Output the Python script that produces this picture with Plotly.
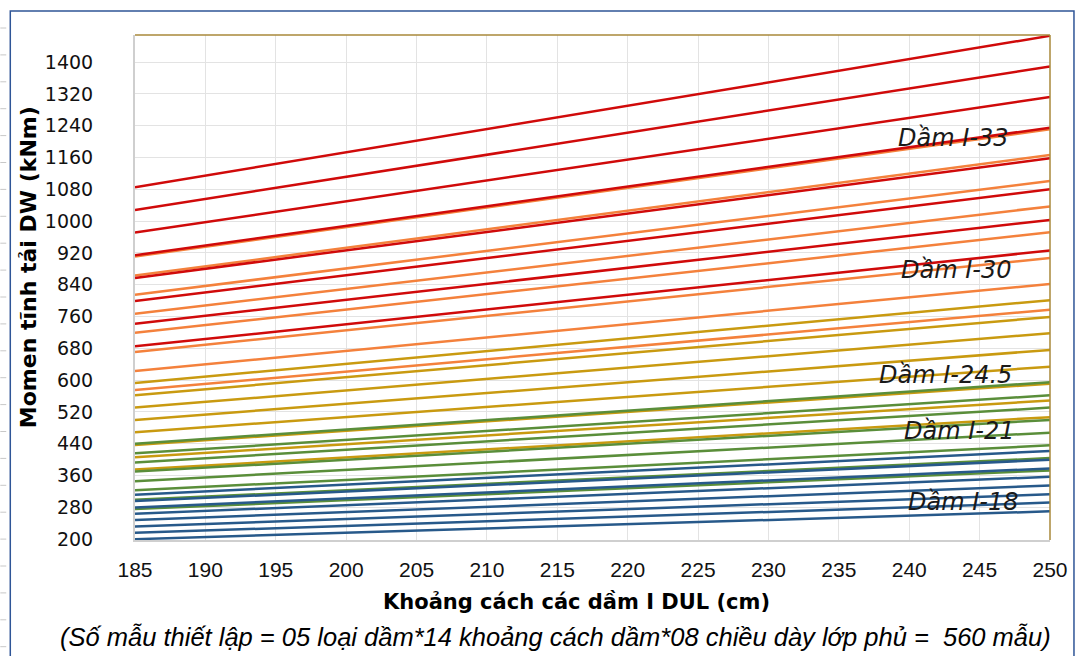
import plotly.graph_objects as go

# Girder spacing (cm) at the two ends of each straight line
spacing = [185, 250]

# Moment DW (kNm) at spacing 185 and 250, eight wearing-surface thicknesses per girder type
i18_at185 = [200, 216, 232, 248, 264, 280, 296, 312]
i18_at250 = [270, 292, 313, 335, 357, 378, 400, 422]
i21_at185 = [276, 299, 323, 346, 370, 393, 416, 440]
i21_at250 = [373, 404, 436, 468, 500, 531, 562, 595]
i245_at185 = [375, 406, 437, 469, 500, 531, 562, 593]
i245_at250 = [507, 549, 591, 634, 676, 718, 759, 801]
i30_at185 = [575, 623, 671, 719, 767, 815, 863, 911]
i30_at250 = [777, 842, 907, 972, 1037, 1101, 1166, 1231]
i33_at185 = [685, 742, 799, 857, 914, 971, 1028, 1085]
i33_at250 = [926, 1003, 1080, 1158, 1235, 1312, 1389, 1466]

# Girder label text and where it sits (spacing, moment)
label_text = ["Dầm I-33", "Dầm I-30", "Dầm I-24.5", "Dầm I-21", "Dầm I-18"]
label_x = [243.1, 243.3, 242.6, 243.5, 243.8]
label_y = [1209, 878, 614, 471, 293]

x_ticks = list(range(185, 251, 5))
y_ticks = list(range(200, 1401, 80))

groups = [
    ("I-30", i30_at185, i30_at250, "#F4813C"),
    ("I-33", i33_at185, i33_at250, "#D00A0A"),
    ("I-24.5", i245_at185, i245_at250, "#C99A10"),
    ("I-21", i21_at185, i21_at250, "#5A8E3A"),
    ("I-18", i18_at185, i18_at250, "#27598A"),
]

fig = go.Figure()
for name, left, right, color in groups:
    for a, b in zip(left, right):
        fig.add_trace(go.Scatter(
            x=spacing, y=[a, b], mode="lines",
            line=dict(color=color, width=2.5),
            name=name, showlegend=False, hoverinfo="x+y",
        ))

for t, lx, ly in zip(label_text, label_x, label_y):
    fig.add_annotation(
        x=lx, y=ly, xref="x", yref="y", text=t, showarrow=False,
        font=dict(family="DejaVu Sans", size=24, color="#1A1A1A", style="italic"),
        xanchor="center", yanchor="middle",
    )

# Axis titles and sample-count note
fig.add_annotation(
    x=-0.1156, y=0.5406, xref="paper", yref="paper", textangle=-90,
    text="<b>Momen tĩnh tải DW (kNm)</b>", showarrow=False,
    font=dict(family="DejaVu Sans", size=22, color="#000000"),
    xanchor="center", yanchor="middle",
)
fig.add_annotation(
    x=0.482, y=-0.1228, xref="paper", yref="paper",
    text="<b>Khoảng cách các dầm I DUL (cm)</b>", showarrow=False,
    font=dict(family="DejaVu Sans", size=21, color="#000000"),
    xanchor="center", yanchor="middle",
)
fig.add_annotation(
    x=0.460, y=-0.192, xref="paper", yref="paper",
    text="(Số mẫu thiết lập = 05 loại dầm*14 khoảng cách dầm*08 chiều dày lớp phủ =\u00a0 560 mẫu)",
    showarrow=False,
    font=dict(family="Liberation Sans", size=25.5, color="#000000", style="italic"),
    xanchor="center", yanchor="middle",
)

# Plot-area border on top and right
fig.add_shape(type="line", xref="paper", yref="paper", x0=0, x1=1, y0=1, y1=1,
              line=dict(color="#A8893A", width=1.5))
fig.add_shape(type="line", xref="paper", yref="paper", x0=1, x1=1, y0=0, y1=1,
              line=dict(color="#A8893A", width=1.5))
# Outer chart frame
fig.add_shape(type="rect", xref="paper", yref="paper",
              x0=-0.1363, x1=1.0262, y0=-0.26, y1=1.0475,
              line=dict(color="#2F5597", width=1.5))
# Small ruler marks along the left edge
y_px = 28.0
while y_px < 656:
    yp = (540 - y_px) / 505
    fig.add_shape(type="line", xref="paper", yref="paper",
                  x0=-0.1472, x1=-0.1407, y0=yp, y1=yp,
                  line=dict(color="#C8C8C8", width=1))
    y_px += 26.9

fig.update_xaxes(
    range=[185, 250], tickvals=x_ticks, ticktext=[str(v) for v in x_ticks],
    showgrid=True, gridcolor="#E3E3E3", gridwidth=1,
    showline=True, linecolor="#CFCFCF", linewidth=1.5,
    zeroline=False, ticks="", ticklabelstandoff=10,
    tickfont=dict(family="Liberation Sans Narrow, Liberation Sans", size=21, color="#111111"),
)
fig.update_yaxes(
    range=[198, 1468], tickvals=y_ticks, ticktext=[str(v) for v in y_ticks],
    showgrid=True, gridcolor="#E3E3E3", gridwidth=1,
    showline=True, linecolor="#CFCFCF", linewidth=2,
    zeroline=False, ticks="", ticklabelstandoff=36,
    tickfont=dict(family="DejaVu Sans", size=19, color="#111111"),
)

fig.update_layout(
    width=1080, height=656,
    margin=dict(l=135, r=28, t=35, b=116),
    paper_bgcolor="white", plot_bgcolor="white",
    showlegend=False,
)

fig.write_html("out.html")
